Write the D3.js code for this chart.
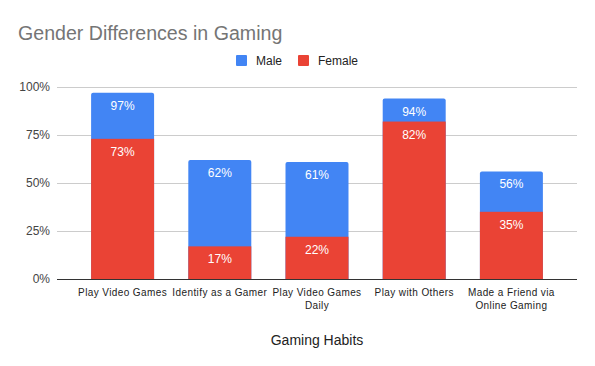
<!DOCTYPE html>
<html>
<head>
  <meta charset="utf-8">
  <title>Gender Differences in Gaming</title>
  <script src="https://cdnjs.cloudflare.com/ajax/libs/d3/7.8.5/d3.min.js"></script>
  <style>
    body { margin: 0; background: #fff; }
    text { font-family: Arial, "Liberation Sans", sans-serif; }
  </style>
</head>
<body>
<script>
var width = 595, height = 366;

var habits = [["Play Video Games"], ["Identify as a Gamer"], ["Play Video Games", "Daily"],
              ["Play with Others"], ["Made a Friend via", "Online Gaming"]];
var male   = [97, 62, 61, 94, 56];
var female = [73, 17, 22, 82, 35];
var yTicks = [0, 25, 50, 75, 100];

var svg = d3.select("body").append("svg").attr("width", width).attr("height", height);

var x = d3.scaleBand().domain(d3.range(habits.length)).range([74, 560]).paddingInner(0.352).paddingOuter(0.176);
var y = d3.scaleLinear().domain([0, 100]).range([279, 87]);

// title
svg.append("text").attr("x", 18).attr("y", 40)
   .attr("font-size", 19.6).attr("fill", "#757575").text("Gender Differences in Gaming");

// legend
var legend = [["Male", "#4285f4", 236], ["Female", "#ea4335", 298]];
legend.forEach(function(l) {
  svg.append("rect").attr("x", l[2]).attr("y", 55).attr("width", 11).attr("height", 11)
     .attr("rx", 1).attr("fill", l[1]);
  svg.append("text").attr("x", l[2] + 20).attr("y", 65).attr("font-size", 12)
     .attr("fill", "#222").text(l[0]);
});

// grid
svg.selectAll("line.grid").data(yTicks.filter(function(d) { return d > 0; })).enter().append("line")
   .attr("x1", 57).attr("x2", 577).attr("y1", function(d) { return y(d) + 0.5; }).attr("y2", function(d) { return y(d) + 0.5; })
   .attr("stroke", "#ccc").attr("stroke-width", 1);

svg.selectAll("text.ytick").data(yTicks).enter().append("text")
   .attr("x", 50).attr("y", function(d) { return y(d) + 4; })
   .attr("text-anchor", "end").attr("font-size", 12).attr("fill", "#444")
   .text(function(d) { return d + "%"; });

// bars: male behind, female in front
function topRounded(x0, y0, w, h, r) {
  return "M" + x0 + "," + (y0 + h) + "V" + (y0 + r) + "Q" + x0 + "," + y0 + " " + (x0 + r) + "," + y0 +
         "H" + (x0 + w - r) + "Q" + (x0 + w) + "," + y0 + " " + (x0 + w) + "," + (y0 + r) + "V" + (y0 + h) + "Z";
}
svg.selectAll("path.male").data(male).enter().append("path")
   .attr("d", function(d, i) { return topRounded(x(i), y(d), x.bandwidth(), y(0) - y(d), 2); })
   .attr("fill", "#4285f4");
svg.selectAll("rect.female").data(female).enter().append("rect")
   .attr("x", function(d, i) { return x(i); }).attr("y", function(d) { return y(d); })
   .attr("width", x.bandwidth()).attr("height", function(d) { return y(0) - y(d); })
   .attr("fill", "#ea4335");

// value labels
[male, female].forEach(function(series) {
  svg.selectAll(null).data(series).enter().append("text")
     .attr("x", function(d, i) { return x(i) + x.bandwidth() / 2; })
     .attr("y", function(d) { return y(d) + 17; })
     .attr("text-anchor", "middle").attr("font-size", 12).attr("fill", "#fff")
     .text(function(d) { return d + "%"; });
});

// baseline
svg.append("line").attr("x1", 57).attr("x2", 577).attr("y1", y(0) + 0.5).attr("y2", y(0) + 0.5)
   .attr("stroke", "#333").attr("stroke-width", 1);

// category labels
habits.forEach(function(lines, i) {
  var t = svg.append("text").attr("text-anchor", "middle").attr("font-size", 10)
     .attr("fill", "#222").attr("letter-spacing", 0.4);
  lines.forEach(function(s, j) {
    t.append("tspan").attr("x", x(i) + x.bandwidth() / 2).attr("y", 296 + j * 13).text(s);
  });
});

svg.append("text").attr("x", 317).attr("y", 345).attr("text-anchor", "middle")
   .attr("font-size", 14).attr("fill", "#222").text("Gaming Habits");
</script>
</body>
</html>
